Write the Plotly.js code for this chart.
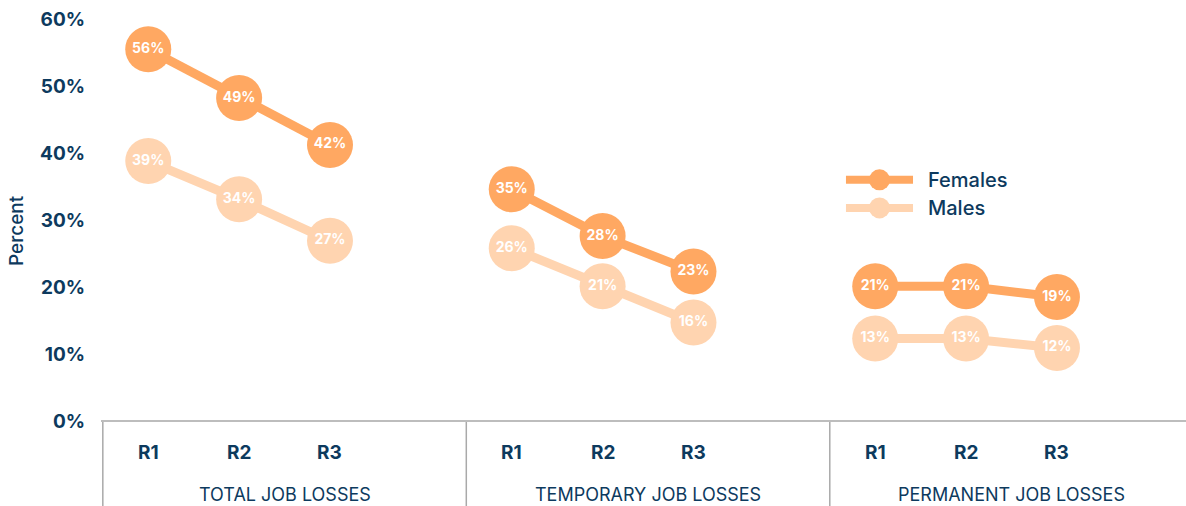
<!DOCTYPE html>
<html>
<head>
<meta charset="utf-8">
<script src="https://cdn.plot.ly/plotly-3.0.1.min.js"></script>
<style>html,body{margin:0;padding:0;background:#fff;}#chart{width:1186px;height:506px;}</style>
</head>
<body>
<div id="chart"></div>
<script>
// ---- data ----
const groups = ["TOTAL JOB LOSSES", "TEMPORARY JOB LOSSES", "PERMANENT JOB LOSSES"];
const rounds = ["R1", "R2", "R3"];
const femalesValues = [55.5, 48.2, 41.2, 34.6, 27.6, 22.3, 20.1, 20.1, 18.5];
const malesValues   = [38.8, 33.1, 26.9, 25.8, 20.1, 14.7, 12.3, 12.3, 10.9];
const femalesLabels = ["56%", "49%", "42%", "35%", "28%", "23%", "21%", "21%", "19%"];
const malesLabels   = ["39%", "34%", "27%", "26%", "21%", "16%", "13%", "13%", "12%"];
const yTickVals = [0, 10, 20, 30, 40, 50, 60];
const yTickText = ["0%", "10%", "20%", "30%", "40%", "50%", "60%"];
const yTitle = "Percent";

// ---- layout helpers ----
const NAVY = "#0d3a5e";
const FEM = "#ffa862";
const MAL = "#ffd4b0";
const FONT = "Inter, 'Open Sans', sans-serif";
const SLOTS = 4; // 3 rounds + 1 empty slot per group

function buildSeries(vals, labels) {
  const x = [], y = [], t = [];
  groups.forEach((g, gi) => {
    rounds.forEach((r, ri) => {
      const k = gi * rounds.length + ri;
      x.push(gi * SLOTS + ri); y.push(vals[k]); t.push(labels[k]);
    });
    if (gi < groups.length - 1) { x.push(null); y.push(null); t.push(""); }
  });
  return {x, y, t};
}

const f = buildSeries(femalesValues, femalesLabels);
const m = buildSeries(malesValues, malesLabels);

function trace(s, color, name) {
  return {
    type: "scatter", mode: "lines+markers+text", name: name,
    x: s.x, y: s.y, text: s.t, textposition: "middle center",
    textfont: {family: FONT, size: 14, color: "#ffffff", weight: 700},
    line: {color: color, width: 9},
    marker: {color: color, size: 46, line: {width: 0}},
    connectgaps: false, cliponaxis: false, hoverinfo: "skip", showlegend: false
  };
}

const data = [trace(m, MAL, "Males"), trace(f, FEM, "Females")];

const shapes = [];
const annotations = [];
// dividers below axis
groups.forEach((g, gi) => {
  shapes.push({type: "line", xref: "x", yref: "paper", x0: gi * SLOTS - 0.5, x1: gi * SLOTS - 0.5,
    y0: 0, y1: -0.215, line: {color: "#a9a9a9", width: 1.5}});
  rounds.forEach((r, ri) => {
    annotations.push({xref: "x", yref: "paper", x: gi * SLOTS + ri, y: 0, yanchor: "middle", yshift: -31,
      text: r, showarrow: false, font: {family: FONT, size: 19, color: NAVY, weight: 700}});
  });
  annotations.push({xref: "x", yref: "paper", x: gi * SLOTS + 1.5, y: 0, yanchor: "middle", yshift: -73,
    text: g, showarrow: false, font: {family: FONT, size: 18, color: NAVY, weight: 400}});
});
// bottom baseline
shapes.push({type: "line", xref: "paper", yref: "paper", x0: 0, x1: 1, y0: 0, y1: 0,
  line: {color: "#bdbdbd", width: 2}});

// y-axis title as annotation for exact placement
annotations.push({xref: "paper", yref: "paper", x: 0, xshift: -85, y: 0.5, yshift: -11,
  xanchor: "center", yanchor: "middle", textangle: -90, text: yTitle, showarrow: false,
  font: {family: FONT, size: 19, color: NAVY, weight: 500}});

// custom legend
const legendItems = [{name: "Females", color: FEM, y: 0.600}, {name: "Males", color: MAL, y: 0.530}];
legendItems.forEach(it => {
  shapes.push({type: "line", xref: "paper", yref: "paper", x0: 0.6866, x1: 0.7484, y0: it.y, y1: it.y,
    line: {color: it.color, width: 8}});
  shapes.push({type: "circle", xref: "paper", yref: "paper", xsizemode: "pixel", ysizemode: "pixel",
    xanchor: 0.7175, yanchor: it.y, x0: -10.5, x1: 10.5, y0: -10.5, y1: 10.5,
    fillcolor: it.color, line: {width: 0}});
  annotations.push({xref: "paper", yref: "paper", x: 0.7600, y: it.y, xanchor: "left", yanchor: "middle",
    text: it.name, showarrow: false, font: {family: FONT, size: 20, color: NAVY, weight: 500}});
});

const layout = {
  width: 1186, height: 506,
  margin: {l: 101, r: 0, t: 19, b: 85},
  paper_bgcolor: "#ffffff", plot_bgcolor: "#ffffff",
  showlegend: false,
  xaxis: {range: [-0.52, 11.42], showticklabels: false, showgrid: false, zeroline: false,
    showline: false, ticks: "", fixedrange: true},
  yaxis: {range: [0, 60], tickvals: yTickVals, ticktext: yTickText, showgrid: false, zeroline: false,
    showline: false, ticks: "", ticklabelstandoff: 15,
    tickfont: {family: FONT, size: 19, color: NAVY, weight: 700}},
  shapes: shapes, annotations: annotations,
  font: {family: FONT, color: NAVY}
};

Plotly.newPlot("chart", data, layout, {displayModeBar: false, staticPlot: true});
</script>
</body>
</html>
